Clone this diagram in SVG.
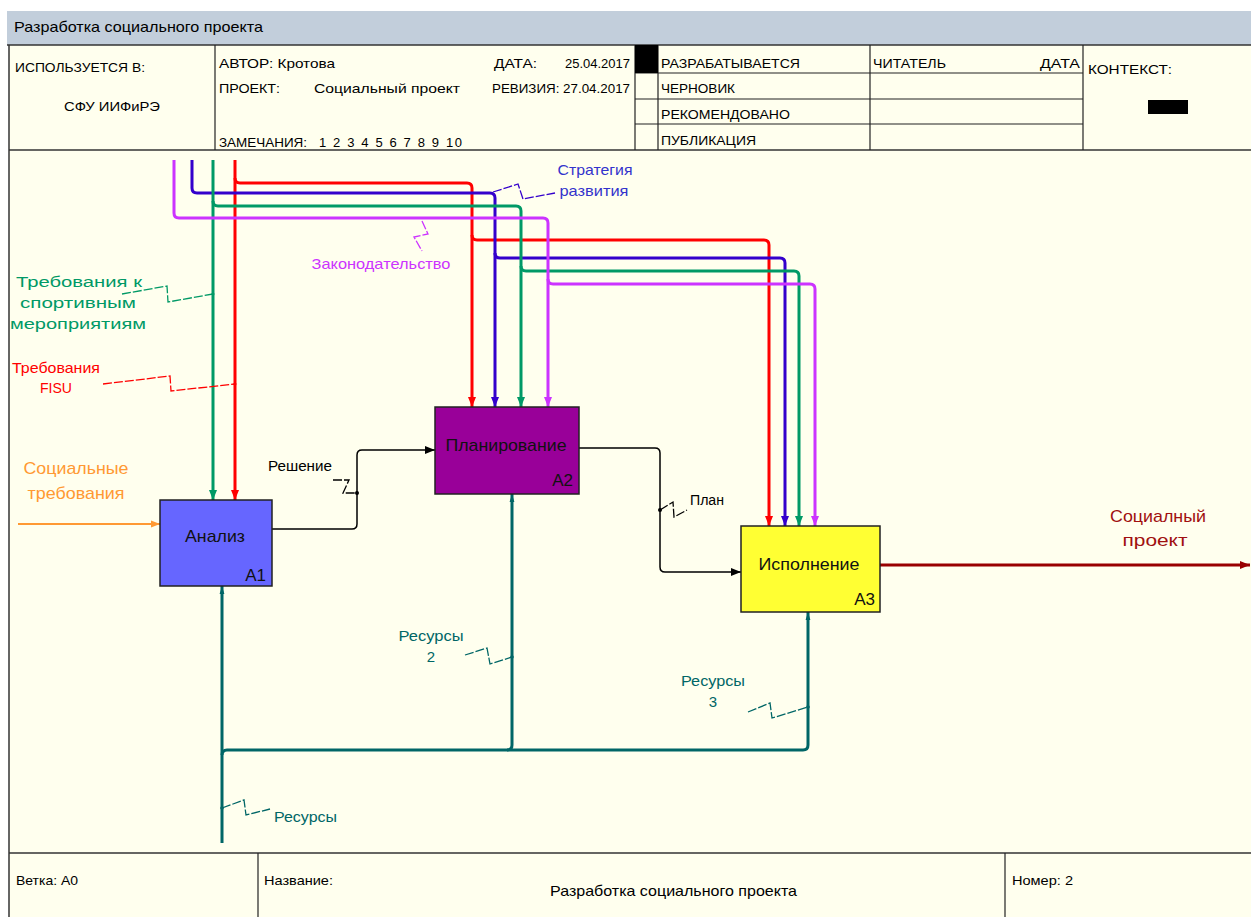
<svg xmlns="http://www.w3.org/2000/svg" width="1251" height="917" viewBox="0 0 1251 917">
<style>
  text { font-family: "Liberation Sans", Arial, sans-serif; }
  .hdr { font-size: 13px; fill: #000; }
  .frame { fill: none; stroke: #333; stroke-width: 1.5; }
  .cell { fill: none; stroke: #222; stroke-width: 1.2; }
  .lbl { font-size: 15px; }
  .big { font-size: 17px; }
  .box { stroke: #222; stroke-width: 1.5; }
  .ctl { fill: none; stroke-width: 3; }
  .sq { fill: none; stroke-width: 1.3; stroke-dasharray: 9 2; }
  .mid { text-anchor: middle; }
  .end { text-anchor: end; }
</style>
<defs>
  <marker id="aR" markerUnits="userSpaceOnUse" viewBox="0 0 10 10" refX="10" refY="5" markerWidth="10" markerHeight="10" orient="auto"><path d="M0,1 L10,5 L0,9 z" fill="#ff0000"/></marker>
  <marker id="aB" markerUnits="userSpaceOnUse" viewBox="0 0 10 10" refX="10" refY="5" markerWidth="10" markerHeight="10" orient="auto"><path d="M0,1 L10,5 L0,9 z" fill="#3300cc"/></marker>
  <marker id="aG" markerUnits="userSpaceOnUse" viewBox="0 0 10 10" refX="10" refY="5" markerWidth="10" markerHeight="10" orient="auto"><path d="M0,1 L10,5 L0,9 z" fill="#009966"/></marker>
  <marker id="aM" markerUnits="userSpaceOnUse" viewBox="0 0 10 10" refX="10" refY="5" markerWidth="10" markerHeight="10" orient="auto"><path d="M0,1 L10,5 L0,9 z" fill="#cc33ff"/></marker>
  <marker id="aK" markerUnits="userSpaceOnUse" viewBox="0 0 10 10" refX="10" refY="5" markerWidth="10" markerHeight="10" orient="auto"><path d="M0,1 L10,5 L0,9 z" fill="#000"/></marker>
  <marker id="aO" markerUnits="userSpaceOnUse" viewBox="0 0 10 10" refX="10" refY="5" markerWidth="9" markerHeight="9" orient="auto"><path d="M0,1 L10,5 L0,9 z" fill="#ff9933"/></marker>
  <marker id="aD" markerUnits="userSpaceOnUse" viewBox="0 0 10 10" refX="10" refY="5" markerWidth="10" markerHeight="10" orient="auto"><path d="M0,1 L10,5 L0,9 z" fill="#990000"/></marker>
  <marker id="aT" markerUnits="userSpaceOnUse" viewBox="0 0 10 10" refX="10" refY="5" markerWidth="8" markerHeight="8" orient="auto"><path d="M0,2 L10,5 L0,8 z" fill="#006666"/></marker>
</defs>

<rect x="0" y="0" width="1251" height="917" fill="#ffffff"/>
<rect x="7" y="11" width="1244" height="34" fill="#c2cedb"/>
<text x="14" y="32" font-size="15" textLength="249" lengthAdjust="spacingAndGlyphs" fill="#000">Разработка социального проекта</text>
<rect x="9" y="45" width="1242" height="872" fill="#ffffee"/>

<g id="header">
  <line x1="7" y1="45" x2="1251" y2="45" class="frame" stroke-width="2"/>
  <line x1="9" y1="45" x2="9" y2="917" class="frame" stroke-width="2"/>
  <line x1="9" y1="150" x2="1251" y2="150" class="frame"/>
  <line x1="215" y1="45" x2="215" y2="150" class="cell"/>
  <line x1="635" y1="45" x2="635" y2="150" class="cell"/>
  <line x1="658" y1="45" x2="658" y2="150" class="cell"/>
  <line x1="870" y1="45" x2="870" y2="150" class="cell"/>
  <line x1="1083" y1="45" x2="1083" y2="150" class="cell"/>
  <line x1="635" y1="73" x2="1083" y2="73" class="cell"/>
  <line x1="635" y1="99" x2="1083" y2="99" class="cell"/>
  <line x1="635" y1="124" x2="1083" y2="124" class="cell"/>
  <rect x="635" y="45" width="23" height="28" fill="#000"/>
  <rect x="1148" y="100" width="40" height="14" fill="#000"/>
  <text class="hdr" x="15" y="72" textLength="130" lengthAdjust="spacingAndGlyphs">ИСПОЛЬЗУЕТСЯ В:</text>
  <text class="hdr" x="64" y="111" font-size="14" textLength="96" lengthAdjust="spacingAndGlyphs">СФУ ИИФиРЭ</text>
  <text class="hdr" x="219" y="68" textLength="116" lengthAdjust="spacingAndGlyphs">АВТОР: Кротова</text>
  <text class="hdr" x="494" y="68" textLength="43" lengthAdjust="spacingAndGlyphs">ДАТА:</text>
  <text class="hdr" x="565" y="68" textLength="65" lengthAdjust="spacingAndGlyphs">25.04.2017</text>
  <text class="hdr" x="219" y="93" textLength="61" lengthAdjust="spacingAndGlyphs">ПРОЕКТ:</text>
  <text class="hdr" x="314" y="93" font-size="14.5" textLength="146" lengthAdjust="spacingAndGlyphs">Социальный проект</text>
  <text class="hdr" x="492" y="93" textLength="138" lengthAdjust="spacingAndGlyphs">РЕВИЗИЯ: 27.04.2017</text>
  <text class="hdr" x="219" y="147" textLength="88" lengthAdjust="spacingAndGlyphs">ЗАМЕЧАНИЯ:</text>
  <text class="hdr" x="319" y="147" textLength="143">1 2 3 4 5 6 7 8 9 10</text>
  <text class="hdr" x="661" y="68" textLength="139" lengthAdjust="spacingAndGlyphs">РАЗРАБАТЫВАЕТСЯ</text>
  <text class="hdr" x="873" y="68" textLength="73" lengthAdjust="spacingAndGlyphs">ЧИТАТЕЛЬ</text>
  <text class="hdr" x="1040" y="68" textLength="40" lengthAdjust="spacingAndGlyphs">ДАТА</text>
  <text class="hdr" x="661" y="93" textLength="74" lengthAdjust="spacingAndGlyphs">ЧЕРНОВИК</text>
  <text class="hdr" x="661" y="119" textLength="129" lengthAdjust="spacingAndGlyphs">РЕКОМЕНДОВАНО</text>
  <text class="hdr" x="661" y="145" textLength="95" lengthAdjust="spacingAndGlyphs">ПУБЛИКАЦИЯ</text>
  <text class="hdr" x="1088" y="74" font-size="14" textLength="84" lengthAdjust="spacingAndGlyphs">КОНТЕКСТ:</text>
</g>

<g id="footer">
  <line x1="9" y1="853" x2="1251" y2="853" class="frame"/>
  <line x1="258" y1="853" x2="258" y2="917" class="cell"/>
  <line x1="1005" y1="853" x2="1005" y2="917" class="cell"/>
  <text class="hdr" x="16" y="885" textLength="62" lengthAdjust="spacingAndGlyphs">Ветка:  А0</text>
  <text class="hdr" x="264" y="885" textLength="69" lengthAdjust="spacingAndGlyphs">Название:</text>
  <text x="550" y="896" font-size="14.5" textLength="247" lengthAdjust="spacingAndGlyphs">Разработка социального проекта</text>
  <text class="hdr" x="1012" y="885" textLength="61" lengthAdjust="spacingAndGlyphs">Номер: 2</text>
</g>

<g id="connectors">
  <path class="ctl" stroke="#ff0000" d="M235,160 V500" marker-end="url(#aR)"/>
  <path class="ctl" stroke="#ff0000" d="M235,178 Q235,183 240,183 H467 Q472,183 472,188 V407" marker-end="url(#aR)"/>
  <path class="ctl" stroke="#ff0000" d="M472,235 Q472,240 477,240 H764 Q769,240 769,245 V526" marker-end="url(#aR)"/>
  <path class="ctl" stroke="#3300cc" d="M192,160 V188 Q192,193 197,193 H490 Q495,193 495,198 V407" marker-end="url(#aB)"/>
  <path class="ctl" stroke="#3300cc" d="M495,253 Q495,258 500,258 H780 Q785,258 785,263 V526" marker-end="url(#aB)"/>
  <path class="ctl" stroke="#009966" d="M213,160 V500" marker-end="url(#aG)"/>
  <path class="ctl" stroke="#009966" d="M213,201 Q213,206 218,206 H516 Q521,206 521,211 V407" marker-end="url(#aG)"/>
  <path class="ctl" stroke="#009966" d="M521,266 Q521,271 526,271 H794 Q799,271 799,276 V526" marker-end="url(#aG)"/>
  <path class="ctl" stroke="#cc33ff" d="M174,160 V213 Q174,218 179,218 H543 Q548,218 548,223 V407" marker-end="url(#aM)"/>
  <path class="ctl" stroke="#cc33ff" d="M548,279 Q548,284 553,284 H810 Q815,284 815,289 V526" marker-end="url(#aM)"/>
  <path fill="none" stroke="#ff9933" stroke-width="2" d="M18,524 H160" marker-end="url(#aO)"/>
  <path fill="none" stroke="#000" stroke-width="1.5" d="M272,529 H352 Q357,529 357,524 V455 Q357,450 362,450 H435" marker-end="url(#aK)"/>
  <path fill="none" stroke="#000" stroke-width="1.5" d="M579,448 H655 Q660,448 660,453 V567 Q660,572 665,572 H741" marker-end="url(#aK)"/>
  <path fill="none" stroke="#990000" stroke-width="3" d="M880,565 H1250" marker-end="url(#aD)"/>
  <path class="ctl" stroke="#006666" d="M222,843 V586" marker-end="url(#aT)"/>
  <path class="ctl" stroke="#006666" d="M222,755 Q222,750 227,750 H803 Q808,750 808,745 V612" marker-end="url(#aT)"/>
  <path class="ctl" stroke="#006666" d="M507,750 Q512,750 512,745 V494" marker-end="url(#aT)"/>

  <path class="sq" stroke="#3300cc" d="M493,192 L518,184 L523,199 L555,193"/>
  <path class="sq" stroke="#cc33ff" d="M422,221 L428,234 L414,237 L422,251"/>
  <path class="sq" stroke="#009966" d="M122,294 L167,286 L168,302 L213,294"/>
  <path class="sq" stroke="#ff0000" d="M103,384 L170,376 L171,391 L235,384"/>
  <path class="sq" stroke="#000" d="M333,480 L349,480 L343,493 L357,493"/>
  <path class="sq" stroke="#000" d="M660,510 L673,502 L674,517 L687,510"/>
  <path class="sq" stroke="#006666" d="M465,655 L487,648 L490,664 L512,657"/>
  <path class="sq" stroke="#006666" d="M748,712 L770,703 L772,718 L808,707"/>
  <path class="sq" stroke="#006666" d="M222,808 L244,800 L246,815 L270,809"/>
  <g fill="#000">
    <circle cx="357" cy="493" r="2"/>
    <circle cx="660" cy="510" r="2"/>
  </g>
  <g fill="#006666">
    <circle cx="512" cy="657" r="1.8"/>
    <circle cx="808" cy="707" r="1.8"/>
    <circle cx="222" cy="808" r="1.8"/>
  </g>
  <circle cx="213" cy="294" r="1.5" fill="#009966"/>
  <circle cx="235" cy="384" r="1.5" fill="#ff0000"/>
</g>

<g id="labels">
  <text class="lbl mid" x="595" y="175" fill="#3333cc" textLength="75" lengthAdjust="spacingAndGlyphs">Стратегия</text>
  <text class="lbl mid" x="594" y="196" fill="#3333cc" textLength="69" lengthAdjust="spacingAndGlyphs">развития</text>
  <text class="lbl mid" x="381" y="269" fill="#cc33ff" textLength="139" lengthAdjust="spacingAndGlyphs">Законодательство</text>
  <text class="mid" x="79" y="287" font-size="14" fill="#009966" textLength="126" lengthAdjust="spacingAndGlyphs">Требования к</text>
  <text class="mid" x="78" y="308" font-size="14" fill="#009966" textLength="116" lengthAdjust="spacingAndGlyphs">спортивным</text>
  <text class="mid" x="78" y="329" font-size="14" fill="#009966" textLength="136" lengthAdjust="spacingAndGlyphs">мероприятиям</text>
  <text class="lbl mid" x="56" y="373" fill="#ff0000" textLength="88" lengthAdjust="spacingAndGlyphs">Требования</text>
  <text class="lbl mid" x="56" y="393" fill="#ff0000" textLength="32" lengthAdjust="spacingAndGlyphs">FISU</text>
  <text class="big mid" x="76" y="474" fill="#ff9933" textLength="105" lengthAdjust="spacingAndGlyphs">Социальные</text>
  <text class="big mid" x="76" y="499" fill="#ff9933" textLength="97" lengthAdjust="spacingAndGlyphs">требования</text>
  <text class="mid" x="300" y="471" font-size="14" fill="#000" textLength="64" lengthAdjust="spacingAndGlyphs">Решение</text>
  <text x="690" y="505" font-size="14" fill="#000" textLength="34" lengthAdjust="spacingAndGlyphs">План</text>
  <text class="big mid" x="1158" y="522" fill="#a01010" textLength="96" lengthAdjust="spacingAndGlyphs">Социалный</text>
  <text class="big mid" x="1155" y="546" fill="#a01010" textLength="65" lengthAdjust="spacingAndGlyphs">проект</text>
  <text class="lbl mid" x="431" y="641" fill="#006666" textLength="65" lengthAdjust="spacingAndGlyphs">Ресурсы</text>
  <text class="lbl mid" x="431" y="662" fill="#006666">2</text>
  <text class="lbl mid" x="713" y="686" fill="#006666" textLength="64" lengthAdjust="spacingAndGlyphs">Ресурсы</text>
  <text class="lbl mid" x="713" y="707" fill="#006666">3</text>
  <text class="lbl" x="274" y="822" fill="#006666" textLength="63" lengthAdjust="spacingAndGlyphs">Ресурсы</text>
</g>

<g id="A1">
  <rect class="box" x="160" y="500" width="112" height="86" fill="#6666ff"/>
  <text class="big mid" x="215" y="542" fill="#111" textLength="60" lengthAdjust="spacingAndGlyphs">Анализ</text>
  <text class="big end" x="266" y="581" fill="#111">A1</text>
</g>
<g id="A2">
  <rect class="box" x="435" y="407" width="144" height="87" fill="#990099"/>
  <text class="big mid" x="506" y="451" fill="#111" textLength="121" lengthAdjust="spacingAndGlyphs">Планирование</text>
  <text class="big end" x="573" y="486" fill="#111">A2</text>
</g>
<g id="A3">
  <rect class="box" x="741" y="526" width="139" height="86" fill="#ffff33"/>
  <text class="big mid" x="809" y="570" fill="#111" textLength="101" lengthAdjust="spacingAndGlyphs">Исполнение</text>
  <text class="big end" x="875" y="605" fill="#111">A3</text>
</g>
</svg>
